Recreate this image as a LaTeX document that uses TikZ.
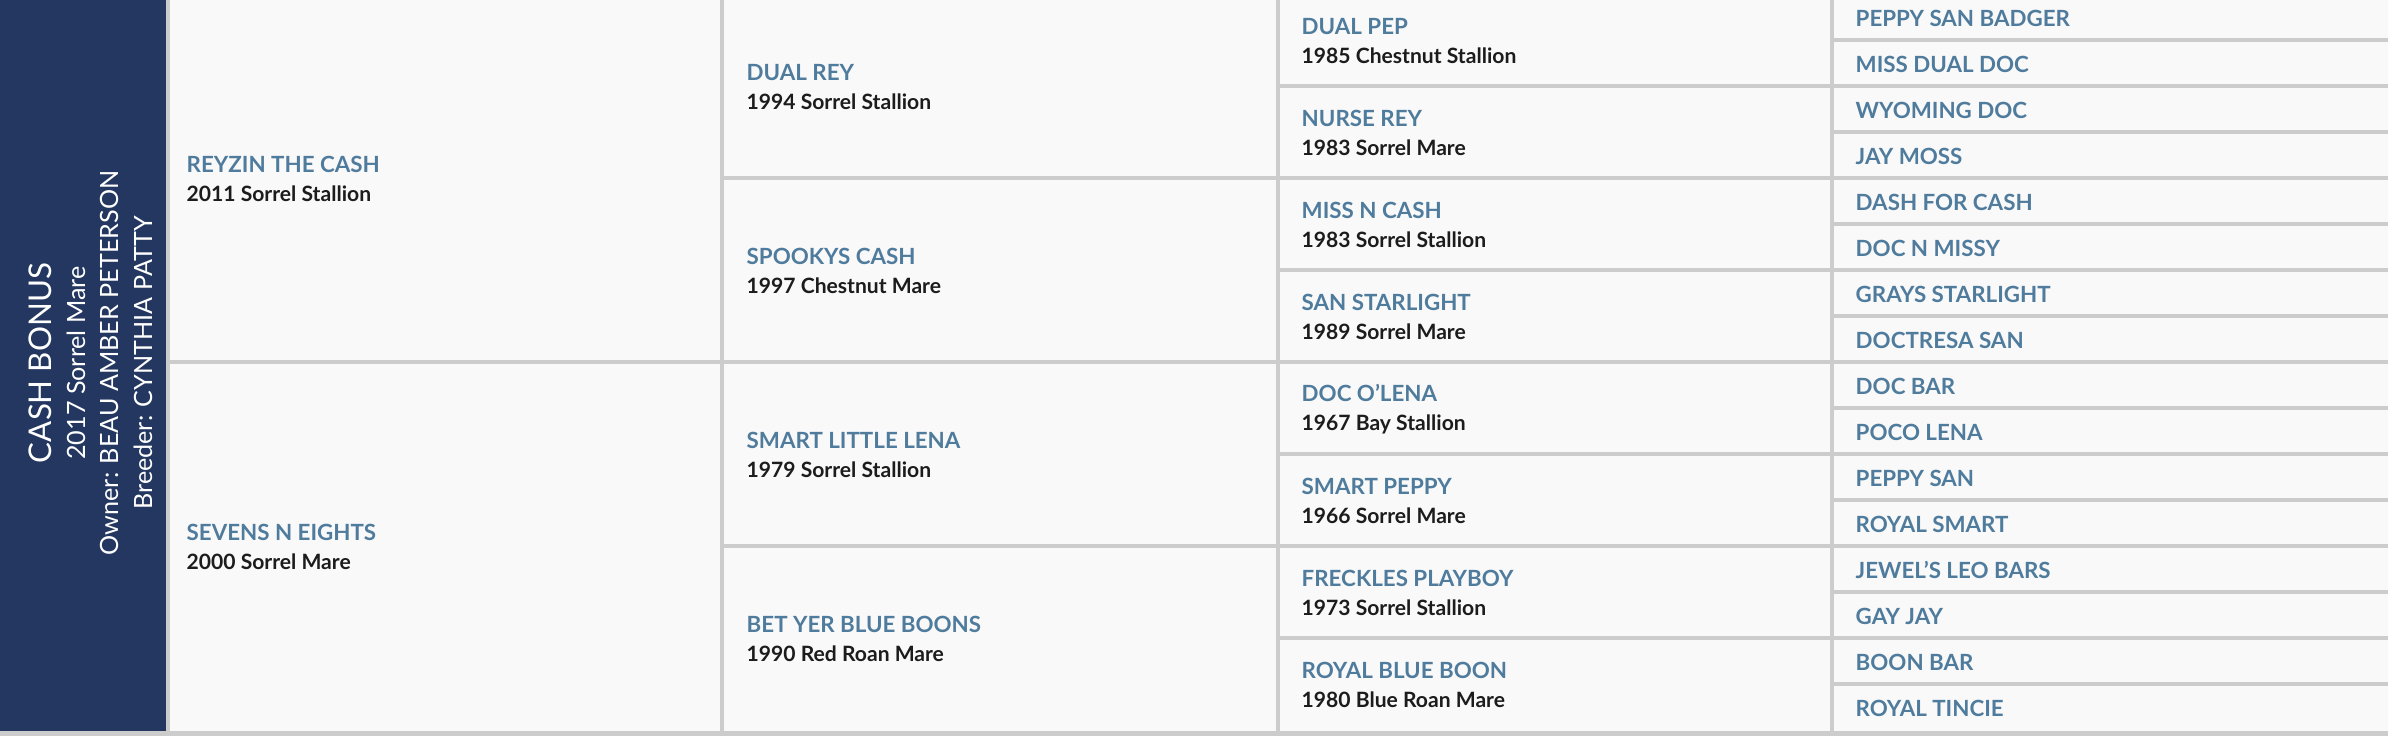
\documentclass[tikz,border=0pt]{standalone}
\usepackage{fontspec}
\setmainfont{Lato}
\usepackage{tikz}
\definecolor{navy}{HTML}{233760}
\definecolor{steel}{HTML}{4F7B9D}
\definecolor{rulegray}{HTML}{CCCCCC}
\definecolor{paper}{HTML}{F9F9F9}
\definecolor{ink}{HTML}{1C1C1C}
\newcommand{\horse}[2]{{\color{steel}\fontsize{6.35}{8.4}\selectfont #1}\\{\fontsize{6.0}{8.4}\selectfont #2}}

\begin{document}
\begin{tikzpicture}[x=0.01cm,y=-0.01cm]
\tikzstyle{grid}=[draw=rulegray,line width=0.035cm]
\tikzstyle{horse}=[anchor=west,inner sep=0pt,align=left,text=ink,font=\bfseries\fontsize{6}{8.4}\selectfont]
\tikzstyle{anc}=[anchor=west,inner sep=0pt,text=steel,font=\bfseries\fontsize{6.35}{8.4}\selectfont]
\tikzstyle{title}=[rotate=90,inner sep=0pt,text=white]
\useasboundingbox (0,0) rectangle (2388,736);
% background, panel and frame
\fill[paper] (0,0) rectangle (2388,736);
\fill[navy] (0,0) rectangle (166,731);
\fill[rulegray] (166,0) rectangle (170,731);
\fill[rulegray] (0,731) rectangle (2388,736);
% columns
\draw[grid] (722,0) -- (722,731);
\draw[grid] (1278,0) -- (1278,731);
\draw[grid] (1832,0) -- (1832,731);
% rows
\draw[grid] (170,362) -- (2388,362);
\draw[grid] (722,178) -- (2388,178);
\draw[grid] (722,546) -- (2388,546);
\draw[grid] (1278,86) -- (2388,86);
\draw[grid] (1278,270) -- (2388,270);
\draw[grid] (1278,454) -- (2388,454);
\draw[grid] (1278,638) -- (2388,638);
\draw[grid] (1832,40) -- (2388,40);
\draw[grid] (1832,132) -- (2388,132);
\draw[grid] (1832,224) -- (2388,224);
\draw[grid] (1832,316) -- (2388,316);
\draw[grid] (1832,408) -- (2388,408);
\draw[grid] (1832,500) -- (2388,500);
\draw[grid] (1832,592) -- (2388,592);
\draw[grid] (1832,684) -- (2388,684);
% the horse itself
\node [title,font=\fontsize{8.9}{10}\selectfont] (horse) at (40,363) {CASH BONUS};
\node [title,font=\fontsize{7.15}{8}\selectfont] (born) at (76,363) {2017 Sorrel Mare};
\node [title,font=\fontsize{7.15}{8}\selectfont] (owner) at (109,363) {Owner: BEAU AMBER PETERSON};
\node [title,font=\fontsize{7.15}{8}\selectfont] (breeder) at (143,363) {Breeder: CYNTHIA PATTY};
% parents
\node [horse] (s) at (186,179) {\horse{REYZIN THE CASH}{2011 Sorrel Stallion}};
\node [horse] (d) at (186,547) {\horse{SEVENS N EIGHTS}{2000 Sorrel Mare}};
% grandparents
\node [horse] (ss) at (746,87) {\horse{DUAL REY}{1994 Sorrel Stallion}};
\node [horse] (sd) at (746,271) {\horse{SPOOKYS CASH}{1997 Chestnut Mare}};
\node [horse] (ds) at (746,455) {\horse{SMART LITTLE LENA}{1979 Sorrel Stallion}};
\node [horse] (dd) at (746,639) {\horse{BET YER BLUE BOONS}{1990 Red Roan Mare}};
% great grandparents
\node [horse] (sss) at (1301,41) {\horse{DUAL PEP}{1985 Chestnut Stallion}};
\node [horse] (ssd) at (1301,133) {\horse{NURSE REY}{1983 Sorrel Mare}};
\node [horse] (sds) at (1301,225) {\horse{MISS N CASH}{1983 Sorrel Stallion}};
\node [horse] (sdd) at (1301,317) {\horse{SAN STARLIGHT}{1989 Sorrel Mare}};
\node [horse] (dss) at (1301,409) {\horse{DOC O'LENA}{1967 Bay Stallion}};
\node [horse] (dsd) at (1301,501) {\horse{SMART PEPPY}{1966 Sorrel Mare}};
\node [horse] (dds) at (1301,593) {\horse{FRECKLES PLAYBOY}{1973 Sorrel Stallion}};
\node [horse] (ddd) at (1301,685) {\horse{ROYAL BLUE BOON}{1980 Blue Roan Mare}};
% fourth generation
\node [anc] (ssss) at (1855,18) {PEPPY SAN BADGER};
\node [anc] (sssd) at (1855,64) {MISS DUAL DOC};
\node [anc] (ssds) at (1855,110) {WYOMING DOC};
\node [anc] (ssdd) at (1855,156) {JAY MOSS};
\node [anc] (sdss) at (1855,202) {DASH FOR CASH};
\node [anc] (sdsd) at (1855,248) {DOC N MISSY};
\node [anc] (sdds) at (1855,294) {GRAYS STARLIGHT};
\node [anc] (sddd) at (1855,340) {DOCTRESA SAN};
\node [anc] (dsss) at (1855,386) {DOC BAR};
\node [anc] (dssd) at (1855,432) {POCO LENA};
\node [anc] (dsds) at (1855,478) {PEPPY SAN};
\node [anc] (dsdd) at (1855,524) {ROYAL SMART};
\node [anc] (ddss) at (1855,570) {JEWEL'S LEO BARS};
\node [anc] (ddsd) at (1855,616) {GAY JAY};
\node [anc] (ddds) at (1855,662) {BOON BAR};
\node [anc] (dddd) at (1855,708) {ROYAL TINCIE};
\end{tikzpicture}
\end{document}
